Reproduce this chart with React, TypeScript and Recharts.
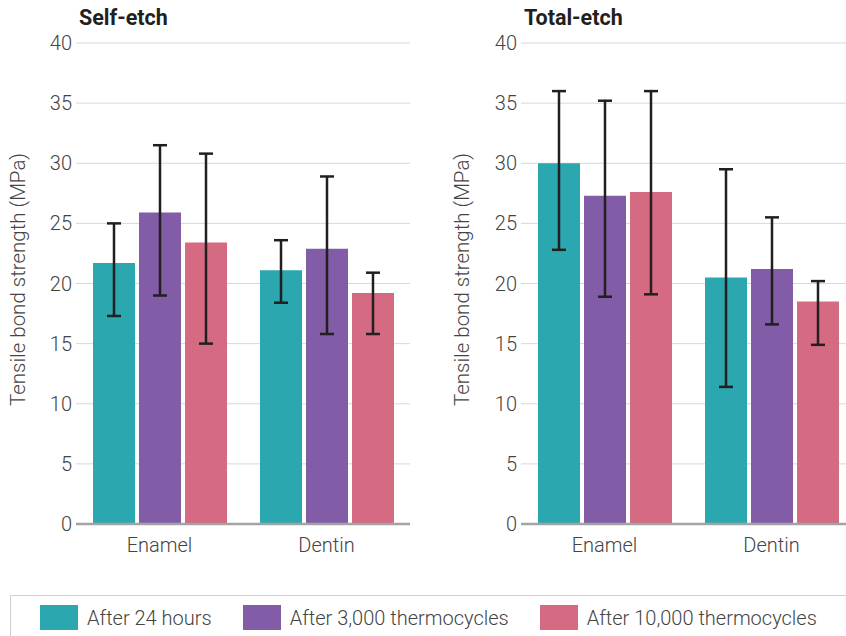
import React from "react";
import {
  BarChart,
  Bar,
  XAxis,
  YAxis,
  CartesianGrid,
  ErrorBar,
} from "recharts";

const categories = ["Enamel", "Dentin"];
const seriesNames = [
  "After 24 hours",
  "After 3,000 thermocycles",
  "After 10,000 thermocycles",
];
const seriesColors = ["#2ba7b0", "#835ca7", "#d56a83"];
const yTicks = [0, 5, 10, 15, 20, 25, 30, 35, 40];

// Self-etch: mean, lower and upper end of each error bar
const selfMean = [
  [21.7, 21.1],
  [25.9, 22.9],
  [23.4, 19.2],
];
const selfLow = [
  [17.3, 18.4],
  [19.0, 15.8],
  [15.0, 15.8],
];
const selfHigh = [
  [25.0, 23.6],
  [31.5, 28.9],
  [30.8, 20.9],
];

// Total-etch
const totalMean = [
  [30.0, 20.5],
  [27.3, 21.2],
  [27.6, 18.5],
];
const totalLow = [
  [22.8, 11.4],
  [18.9, 16.6],
  [19.1, 14.9],
];
const totalHigh = [
  [36.0, 29.5],
  [35.2, 25.5],
  [36.0, 20.2],
];

const FONT = "Roboto, 'Noto Sans', sans-serif";
const TEXT = "#444";

function buildRows(mean: number[][], low: number[][], high: number[][]) {
  return categories.map((name, c) => {
    const row: any = { name };
    seriesNames.forEach((_, s) => {
      row["s" + s] = mean[s][c];
      row["e" + s] = [mean[s][c] - low[s][c], high[s][c] - mean[s][c]];
    });
    return row;
  });
}

interface PanelProps {
  title: string;
  rows: any[];
  left: number;
  axisWidth: number;
  labelOffset: number;
  marginRight: number;
}

function Panel({ title, rows, left, axisWidth, labelOffset, marginRight }: PanelProps) {
  return (
    <div style={{ position: "absolute", left, top: 0 }}>
      <div
        style={{
          position: "absolute",
          left: axisWidth + 3,
          top: 5,
          fontSize: 21.5,
          fontWeight: 700,
          color: "#231f20",
          whiteSpace: "nowrap",
        }}
      >
        {title}
      </div>
      <BarChart
        width={420}
        height={570}
        data={rows}
        margin={{ top: 43, right: marginRight, left: 0, bottom: 6 }}
        barCategoryGap={17}
        barGap={4}
      >
        <CartesianGrid vertical={false} stroke="#d8d8d8" strokeWidth={1} />
        <XAxis
          dataKey="name"
          height={40}
          tickLine={false}
          tickMargin={8}
          axisLine={{ stroke: "#a3a3a3", strokeWidth: 2.5 }}
          tick={{ fill: TEXT, fontSize: 20, fontFamily: FONT, fontWeight: 300 }}
        />
        <YAxis
          width={axisWidth}
          domain={[0, 40]}
          ticks={yTicks}
          interval={0}
          tickLine={false}
          axisLine={false}
          tickSize={0}
          tickMargin={4}
          tick={{ fill: TEXT, fontSize: 20, fontFamily: FONT, fontWeight: 300 }}
          label={{
            value: "Tensile bond strength (MPa)",
            angle: -90,
            position: "insideLeft",
            offset: labelOffset,
            dy: -4,
            style: {
              textAnchor: "middle",
              fill: TEXT,
              fontSize: 20.5,
              fontFamily: FONT,
              fontWeight: 300,
            },
          }}
        />
        {seriesNames.map((n, s) => (
          <Bar
            key={n}
            dataKey={"s" + s}
            name={n}
            fill={seriesColors[s]}
            isAnimationActive={false}
          >
            <ErrorBar
              dataKey={"e" + s}
              direction="y"
              width={7}
              stroke="#231f20"
              strokeWidth={2.5}
              isAnimationActive={false}
            />
          </Bar>
        ))}
      </BarChart>
    </div>
  );
}

export default function App() {
  const selfRows = buildRows(selfMean, selfLow, selfHigh);
  const totalRows = buildRows(totalMean, totalLow, totalHigh);

  return (
    <div
      style={{
        position: "absolute",
        left: 0,
        top: 0,
        width: 846,
        height: 636,
        overflow: "hidden",
        background: "#fff",
        fontFamily: FONT,
      }}
    >
      <Panel title="Self-etch" rows={selfRows} left={0} axisWidth={76} labelOffset={18} marginRight={10} />
      <Panel title="Total-etch" rows={totalRows} left={440} axisWidth={81} labelOffset={22} marginRight={5} />

      {/* Legend */}
      <div
        style={{
          position: "absolute",
          left: 10,
          top: 595,
          width: 900,
          height: 60,
          border: "1px solid #cfcfcf",
          boxSizing: "border-box",
          display: "flex",
          alignItems: "flex-start",
          paddingLeft: 29,
          paddingTop: 9,
        }}
      >
        {seriesNames.map((n, s) => (
          <div
            key={n}
            style={{ display: "flex", alignItems: "center", marginRight: 31 }}
          >
            <div
              style={{
                width: 38,
                height: 25,
                background: seriesColors[s],
                marginRight: 9,
              }}
            />
            <span
              style={{
                fontSize: 20,
                fontWeight: 300,
                color: TEXT,
                whiteSpace: "nowrap",
              }}
            >
              {n}
            </span>
          </div>
        ))}
      </div>
    </div>
  );
}
